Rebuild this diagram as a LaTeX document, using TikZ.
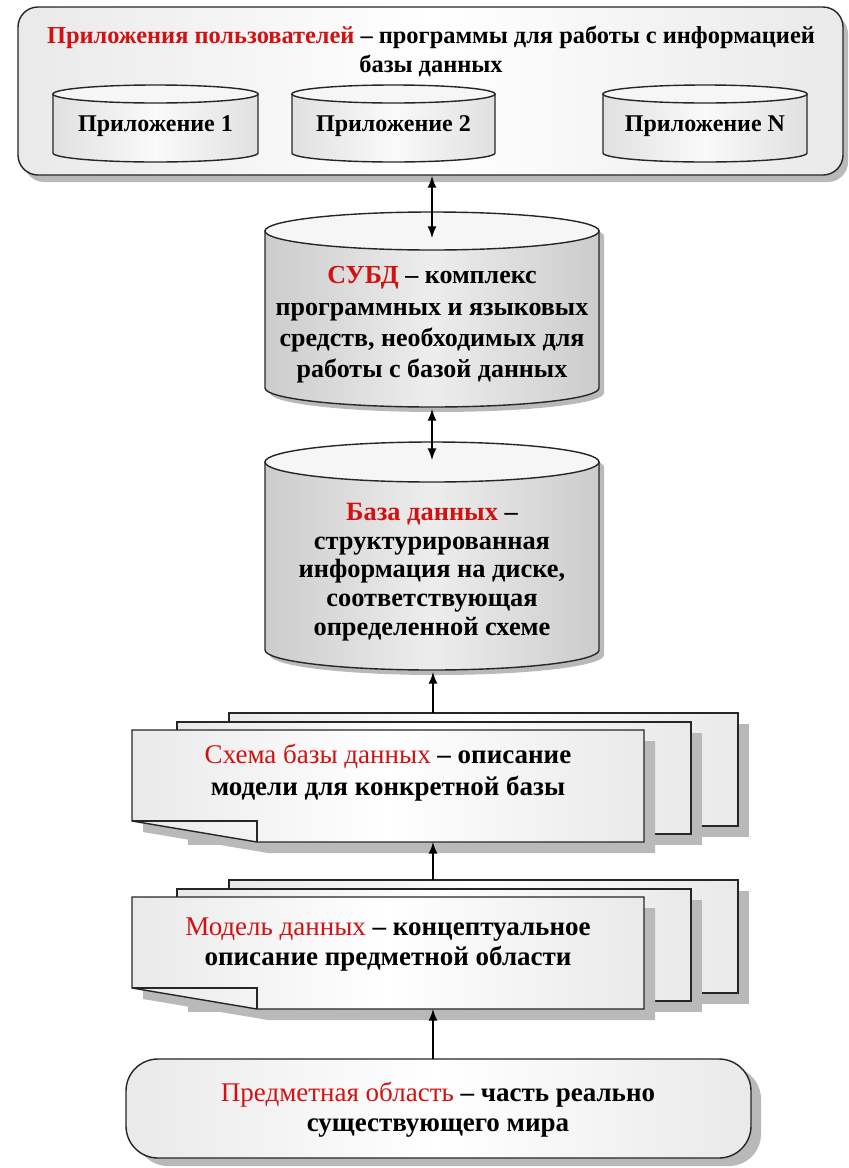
\documentclass[tikz,border=0pt]{standalone}
\usepackage{fontspec}
\setmainfont{Liberation Serif}
\usepackage{tikz}
\usetikzlibrary{calc,arrows}
\definecolor{headred}{RGB}{210,18,18}

\begin{document}
\begin{tikzpicture}[x=0.5pt,y=-0.5pt,>=latex,
		outline/.style={draw=black!85,line width=0.7pt},
		shade box/.style={left color=gray!17,right color=gray!17,middle color=white},
		shade small/.style={left color=gray!24,right color=gray!24,middle color=gray!4},
		shade cyl/.style={left color=gray!40,right color=gray!40,middle color=gray!14},
		lid/.style={fill=gray!7},
		shadow/.style={fill=gray!55,draw=none},
		conn/.style={line width=1pt},
		txt/.style={align=center,inner sep=0pt}]
		\useasboundingbox (0,0) rectangle (848,1168);
		\fill[white] (0,0) rectangle (848,1168);
		
		%applications
		\fill[shadow,rounded corners=10pt] (24,14) rectangle (848,182);
		\draw[outline,shade box,rounded corners=10pt] (18,7) rectangle (843,175);
		\node[txt,font=\bfseries\fontsize{12.2}{14.5}\selectfont] (apps) at (431,51) {\textcolor{headred}{Приложения пользователей} – программы для работы с информацией\\базы данных};
		\foreach \xa/\xb/\lab [count=\i] in {53/258/1,292/495/2,603/807/N}{
			\draw[outline,shade small] (\xa,94) -- (\xa,153) arc[start angle=180,end angle=0,x radius={(\xb-\xa)/2},y radius=9] -- (\xb,94) -- cycle;
			\draw[outline,lid] ({(\xa+\xb)/2},94) ellipse[x radius={(\xb-\xa)/2},y radius=9];
			\node[txt,font=\bfseries\fontsize{12}{14}\selectfont] (app\i) at ({(\xa+\xb)/2},126) {Приложение \lab};
		}
		\coordinate (apps-s) at (432,176);
		
		%dbms
		\fill[shadow,shift={(5,5)}] (265,231) -- (265,388) arc[start angle=180,end angle=0,x radius=167,y radius=19] -- (599,231) arc[start angle=0,end angle=-180,x radius=167,y radius=19] -- cycle;
		\draw[outline,shade cyl] (265,231) -- (265,388) arc[start angle=180,end angle=0,x radius=167,y radius=19] -- (599,231) -- cycle;
		\draw[outline,lid] (432,231) ellipse[x radius=167,y radius=19];
		\node[txt,font=\bfseries\fontsize{13}{15.7}\selectfont] (dbms) at (432,325) {\textcolor{headred}{СУБД} – комплекс\\программных и языковых\\средств, необходимых для\\работы с базой данных};
		\coordinate (dbms-n) at (432,238);
		\coordinate (dbms-s) at (432,409);
		
		%database
		\fill[shadow,shift={(5,5)}] (265,462) -- (265,650) arc[start angle=180,end angle=0,x radius=167,y radius=20] -- (599,462) arc[start angle=0,end angle=-180,x radius=167,y radius=20] -- cycle;
		\draw[outline,shade cyl] (265,462) -- (265,650) arc[start angle=180,end angle=0,x radius=167,y radius=20] -- (599,462) -- cycle;
		\draw[outline,lid] (432,462) ellipse[x radius=167,y radius=20];
		\node[txt,font=\bfseries\fontsize{13.2}{14.3}\selectfont] (db) at (432,572) {\textcolor{headred}{База данных} –\\структурированная\\информация на диске,\\соответствующая\\определенной схеме};
		\coordinate (db-n) at (432,460);
		\coordinate (db-s) at (433,672);
		
		%schema and model (stacked documents)
		\foreach \dy/\name in {0/schema,167/model}{
			\begin{scope}[shift={(0,\dy)}]
			\fill[shadow] (240,724) rectangle (749,837);
			\draw[outline,shade box] (229,713) rectangle (738,826);
			\fill[shadow] (188,733) rectangle (702,845);
			\draw[outline,shade box] (177,722) rectangle (691,834);
			\fill[shadow] (143,832) -- (143,741) -- (655,741) -- (655,853) -- (268,853) -- cycle;
			\draw[outline,shade box] (132,730) -- (644,730) -- (644,842) -- (257,842) -- (132,821) -- cycle;
			%fold
			\draw[outline] (132,821) -- (257,821) -- (257,842);
			\coordinate (\name-n) at (433,713);
			\coordinate (\name-s) at (433,842);
			\end{scope}
		}
		\node[txt,font=\bfseries\fontsize{13.5}{16}\selectfont] (schema) at (388,773) {\textcolor{headred}{\mdseries Схема базы данных} – описание\\модели для конкретной базы};
		\node[txt,font=\bfseries\fontsize{13.5}{15}\selectfont] (model) at (388,945) {\textcolor{headred}{\mdseries Модель данных} – концептуальное\\описание предметной области};
		
		%subject area
		\fill[shadow,rounded corners=16pt] (136,1067) rectangle (761,1166);
		\draw[outline,shade box,rounded corners=16pt] (126,1059) rectangle (751,1158);
		\node[txt,font=\bfseries\fontsize{13.5}{15}\selectfont] (area) at (438,1110) {\textcolor{headred}{\mdseries Предметная область} – часть реально\\существующего мира};
		\coordinate (area-n) at (433,1059);
		
		%arrows:
		\draw[conn,<->] (apps-s) -- (dbms-n);
		\draw[conn,<->] (dbms-s) -- (db-n);
		\draw[conn,->] (schema-n) -- (db-s);
		\draw[conn,->] (model-n) -- (schema-s);
		\draw[conn,->] (area-n) -- (model-s);
		
\end{tikzpicture}
\end{document}
